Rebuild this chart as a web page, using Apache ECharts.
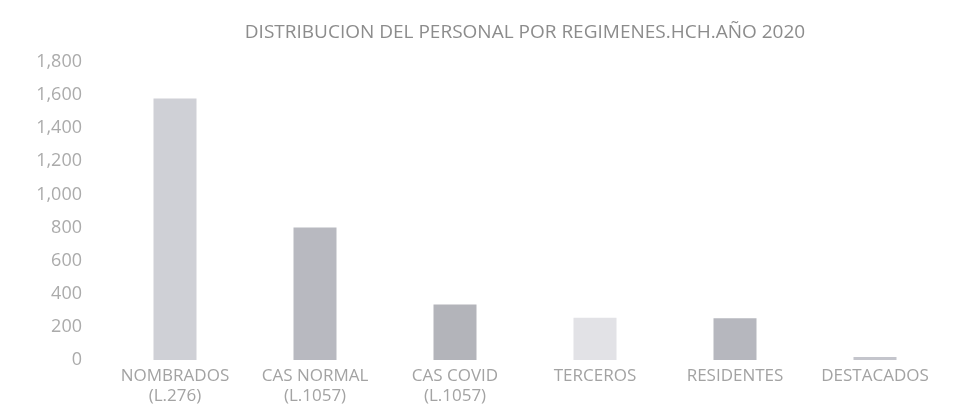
<!DOCTYPE html>
<html>
<head>
<meta charset="utf-8">
<script src="https://cdn.jsdelivr.net/npm/echarts@6/dist/echarts.min.js"></script>
<style>
html, body { margin: 0; padding: 0; background: #fff; }
#chart { width: 966px; height: 414px; }
</style>
</head>
<body>
<div id="chart"></div>
<script>
// datos
var categorias = ['NOMBRADOS\n(L.276)', 'CAS NORMAL\n(L.1057)', 'CAS COVID\n(L.1057)', 'TERCEROS', 'RESIDENTES', 'DESTACADOS'];
var personal = [1580, 800, 335, 255, 252, 18];
var coloresBarra = ['#cfd0d6', '#b8b9c0', '#b3b4ba', '#e2e2e6', '#b6b7be', '#c4c5cc'];

var myChart = echarts.init(document.getElementById('chart'));

var option = {
    backgroundColor: '#fff',
    title: {
        text: 'DISTRIBUCION DEL PERSONAL POR REGIMENES.HCH.AÑO 2020',
        left: 520,
        top: 18,
        textAlign: 'center',
        textStyle: {
            fontFamily: 'Open Sans',
            fontSize: 19,
            fontWeight: 'normal',
            color: '#8c8c8c'
        }
    },
    grid: {
        left: 105,
        right: 21,
        top: 62,
        bottom: 54
    },
    xAxis: {
        type: 'category',
        data: categorias,
        axisLine: { show: false },
        axisTick: { show: false },
        axisLabel: {
            interval: 0,
            hideOverlap: false,
            margin: 6,
            fontFamily: 'Open Sans',
            fontSize: 17,
            lineHeight: 20,
            color: '#a3a3a3'
        }
    },
    yAxis: {
        type: 'value',
        min: 0,
        max: 1800,
        interval: 200,
        splitLine: { show: false },
        axisLine: { show: false },
        axisLabel: {
            margin: 23,
            fontFamily: 'Open Sans',
            fontSize: 18,
            color: '#ababab',
            formatter: function (v) { return v.toLocaleString('en-US'); }
        }
    },
    series: [{
        type: 'bar',
        barWidth: 43,
        data: personal.map(function (v, i) {
            return { value: v, itemStyle: { color: coloresBarra[i] } };
        })
    }]
};

myChart.setOption(option);
</script>
</body>
</html>
